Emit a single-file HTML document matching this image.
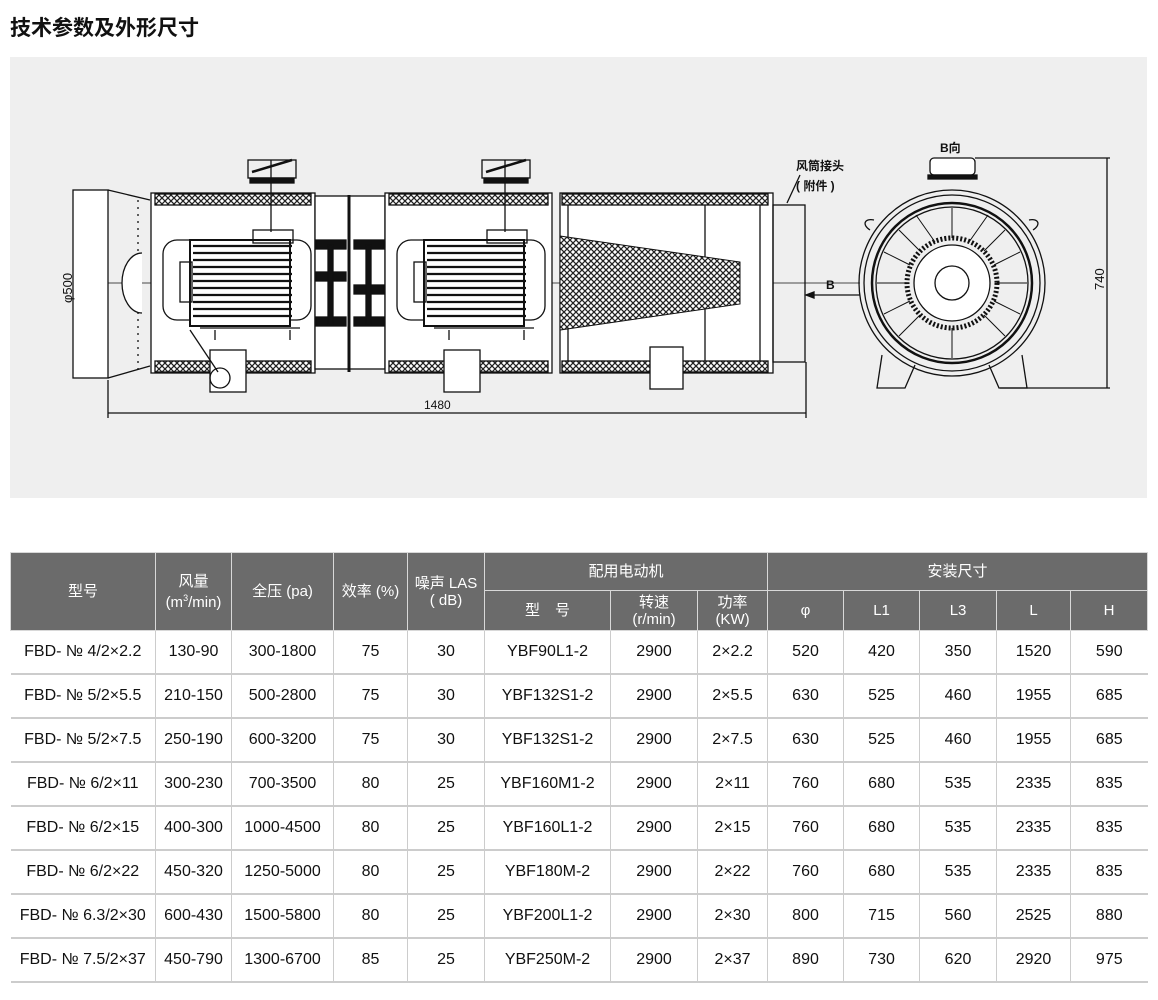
<!DOCTYPE html>
<html><head><meta charset="utf-8">
<style>
body{margin:0;width:1158px;height:1000px;background:#fff;font-family:"Liberation Sans","Noto Sans CJK SC",sans-serif;position:relative;overflow:hidden}
.title{position:absolute;left:10px;top:12px;font-size:21px;font-weight:bold;color:#111;letter-spacing:0}
.panel{position:absolute;left:10px;top:57px;width:1137px;height:441px;background:#efefef}
table{position:absolute;left:10px;top:552px;border-collapse:collapse;table-layout:fixed;width:1137px}
th{background:#6b6b6b;color:#fff;font-weight:normal;font-size:15px;border:1px solid #d8d8d8;line-height:17px;padding:0}
td{height:42px;text-align:center;font-size:16px;color:#111;border-left:1px solid #ccc;border-bottom:2px solid #ccc;padding:0}
td:first-child{border-left:none}
</style></head><body>
<div class="title">技术参数及外形尺寸</div>
<div class="panel"></div>
<svg style="position:absolute;left:0;top:0" width="1158" height="500" viewBox="0 0 1158 500">
<defs><pattern id="h" width="6" height="6" patternUnits="userSpaceOnUse"><rect width="6" height="6" fill="#fff"/><path d="M0 0L6 6M6 0L0 6" stroke="#222" stroke-width="1.3"/></pattern></defs>
<g fill="none" stroke="#111" stroke-width="1.3">
<line x1="100" y1="283" x2="860" y2="283" stroke-width="0.8"/>
<rect x="73" y="190" width="35" height="188" fill="#fff"/>
<path d="M108 190L150 200M108 378L150 366" />
<line x1="138" y1="200" x2="138" y2="370" stroke-dasharray="2 5"/>
<path d="M142 253A20 30 0 0 0 142 313" fill="#fff"/>
<rect x="151" y="193" width="164" height="180" fill="#fff"/>
<rect x="155" y="194" width="156" height="11" fill="url(#h)"/>
<rect x="155" y="361" width="156" height="11" fill="url(#h)"/>
<rect x="315" y="196" width="70" height="173" fill="#fff"/>
<rect x="316" y="240" width="30" height="9" fill="#111"/><rect x="354" y="240" width="30" height="9" fill="#111"/>
<rect x="316" y="317" width="30" height="9" fill="#111"/><rect x="354" y="317" width="30" height="9" fill="#111"/>
<rect x="316" y="272" width="30" height="9" fill="#111"/><rect x="354" y="285" width="30" height="9" fill="#111"/>
<rect x="328" y="245" width="5" height="80" fill="#111"/><rect x="366" y="245" width="5" height="80" fill="#111"/>
<line x1="349" y1="195" x2="349" y2="372" stroke-width="3"/>
<rect x="385" y="193" width="167" height="180" fill="#fff"/>
<rect x="389" y="194" width="159" height="11" fill="url(#h)"/>
<rect x="389" y="361" width="159" height="11" fill="url(#h)"/>
<g id="m">
<rect x="163" y="240" width="148" height="80" rx="14"/>
<rect x="190" y="240" width="100" height="86" fill="#fff" stroke-width="2"/>
<path d="M193 246H292M193 253H292M193 260H292M193 267H292M193 274H292M193 281H292M193 288H292M193 295H292M193 302H292M193 309H292M193 316H292" stroke-width="2.2"/>
<rect x="180" y="262" width="12" height="40"/>
<rect x="253" y="230" width="40" height="13"/>
<line x1="271" y1="160" x2="271" y2="232"/>
<rect x="248" y="160" width="48" height="18"/>
<path d="M252 172L292 160" stroke-width="2.5"/>
<rect x="250" y="178" width="44" height="5" fill="#111"/>
<rect x="210" y="350" width="36" height="42" fill="#fff"/>
<path d="M200 328H300M215 330V340M290 330V340"/>
</g>
<use href="#m" transform="translate(234,0)"/>
<circle cx="220" cy="378" r="10"/>
<path d="M190 330L218 372"/>
<rect x="560" y="193" width="213" height="180" fill="#fff"/>
<rect x="562" y="194" width="206" height="11" fill="url(#h)"/>
<rect x="562" y="361" width="206" height="11" fill="url(#h)"/>
<path d="M568 205V361M705 205V361M760 205V361"/>
<polygon points="560,236 740,262 740,304 560,330" fill="url(#h)" stroke-width="1"/>
<rect x="650" y="347" width="33" height="42" fill="#fff"/>
<rect x="773" y="205" width="32" height="157"/>
<path d="M787 203L800 175"/>
<path d="M108 380V418M806 362V418M108 413H806"/>
<path d="M806 295H860"/><path d="M806 295l8 -3v6z" fill="#111"/>
<circle cx="952" cy="283" r="93"/><circle cx="952" cy="283" r="88"/>
<circle cx="952" cy="283" r="80" stroke-width="2.5"/><circle cx="952" cy="283" r="76"/>
<circle cx="952" cy="283" r="45" stroke-width="5" stroke-dasharray="2 2"/>
<circle cx="952" cy="283" r="38" fill="#fff"/>
<circle cx="952" cy="283" r="17"/>
<g stroke-width="1">
<path d="M952 208L952 238M952 328L952 358M877 283L907 283M997 283L1027 283M899 230L920 251M1005 230L984 251M899 336L920 315M1005 336L984 315M916 215L935 242M988 215L969 242M884 252L910 265M1020 252L994 265M884 314L910 301M1020 314L994 301"/>
</g>
<path d="M882 355L877 388H905L915 365M1022 355L1027 388H999L989 365"/>
<rect x="930" y="158" width="45" height="17" rx="4" fill="#fff"/>
<rect x="928" y="175" width="49" height="4" fill="#111"/>
<path d="M975 158H1110M1000 388H1110M1107 158V388"/>
<path d="M870 230c-8 -5 -6 -12 4 -10M1033 230c8 -5 6 -12 -4 -10"/>
</g>
<g font-family="Liberation Sans,sans-serif" font-size="12" fill="#111">
<text x="424" y="409">1480</text>
<text transform="translate(72,303) rotate(-90)" font-size="13">φ500</text>
<text transform="translate(1104,290) rotate(-90)" font-size="13">740</text>
<text x="826" y="289" font-weight="bold">B</text>
<text x="940" y="152" font-weight="bold" font-family="Liberation Sans,Noto Sans CJK SC,sans-serif">B向</text>
<text x="796" y="170" font-weight="bold" font-family="Liberation Sans,Noto Sans CJK SC,sans-serif">风筒接头</text>
<text x="796" y="190" font-weight="bold" font-family="Liberation Sans,Noto Sans CJK SC,sans-serif">( 附件 )</text>
</g>
</svg>
<table>
<colgroup><col style="width:145px"><col style="width:76px"><col style="width:102px"><col style="width:74px"><col style="width:77px"><col style="width:126px"><col style="width:87px"><col style="width:70px"><col style="width:76px"><col style="width:76px"><col style="width:77px"><col style="width:74px"><col style="width:77px"></colgroup>
<tr style="height:38px"><th rowspan="2">型号</th><th rowspan="2">风量<br>(m<sup style="font-size:9px">3</sup>/min)</th><th rowspan="2">全压 (pa)</th><th rowspan="2">效率 (%)</th><th rowspan="2">噪声 LAS<br>( dB)</th><th colspan="3">配用电动机</th><th colspan="5">安装尺寸</th></tr>
<tr style="height:40px"><th>型　号</th><th>转速<br>(r/min)</th><th>功率<br>(KW)</th><th>φ</th><th>L1</th><th>L3</th><th>L</th><th>H</th></tr>
<tr><td>FBD- № 4/2×2.2</td><td>130-90</td><td>300-1800</td><td>75</td><td>30</td><td>YBF90L1-2</td><td>2900</td><td>2×2.2</td><td>520</td><td>420</td><td>350</td><td>1520</td><td>590</td></tr>
<tr><td>FBD- № 5/2×5.5</td><td>210-150</td><td>500-2800</td><td>75</td><td>30</td><td>YBF132S1-2</td><td>2900</td><td>2×5.5</td><td>630</td><td>525</td><td>460</td><td>1955</td><td>685</td></tr>
<tr><td>FBD- № 5/2×7.5</td><td>250-190</td><td>600-3200</td><td>75</td><td>30</td><td>YBF132S1-2</td><td>2900</td><td>2×7.5</td><td>630</td><td>525</td><td>460</td><td>1955</td><td>685</td></tr>
<tr><td>FBD- № 6/2×11</td><td>300-230</td><td>700-3500</td><td>80</td><td>25</td><td>YBF160M1-2</td><td>2900</td><td>2×11</td><td>760</td><td>680</td><td>535</td><td>2335</td><td>835</td></tr>
<tr><td>FBD- № 6/2×15</td><td>400-300</td><td>1000-4500</td><td>80</td><td>25</td><td>YBF160L1-2</td><td>2900</td><td>2×15</td><td>760</td><td>680</td><td>535</td><td>2335</td><td>835</td></tr>
<tr><td>FBD- № 6/2×22</td><td>450-320</td><td>1250-5000</td><td>80</td><td>25</td><td>YBF180M-2</td><td>2900</td><td>2×22</td><td>760</td><td>680</td><td>535</td><td>2335</td><td>835</td></tr>
<tr><td>FBD- № 6.3/2×30</td><td>600-430</td><td>1500-5800</td><td>80</td><td>25</td><td>YBF200L1-2</td><td>2900</td><td>2×30</td><td>800</td><td>715</td><td>560</td><td>2525</td><td>880</td></tr>
<tr><td>FBD- № 7.5/2×37</td><td>450-790</td><td>1300-6700</td><td>85</td><td>25</td><td>YBF250M-2</td><td>2900</td><td>2×37</td><td>890</td><td>730</td><td>620</td><td>2920</td><td>975</td></tr>
</table>
</body></html>
